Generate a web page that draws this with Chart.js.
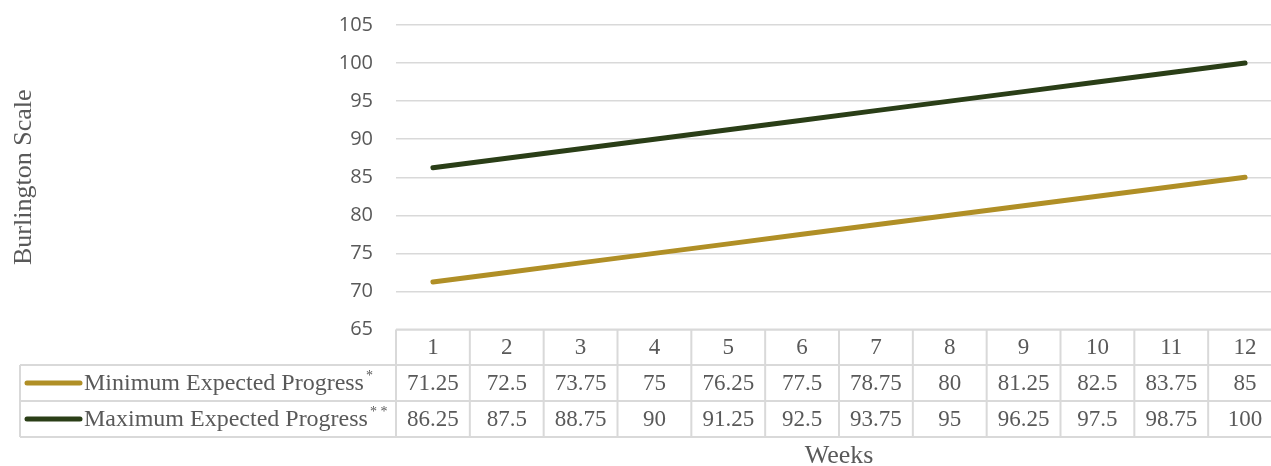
<!DOCTYPE html>
<html>
<head>
<meta charset="utf-8">
<script src="https://cdn.jsdelivr.net/npm/chart.js@4/dist/chart.umd.min.js"></script>
<style>
  html, body { margin: 0; padding: 0; overflow: hidden; background: #fff; width: 1271px; height: 466px; }
  canvas { display: block; }
</style>
</head>
<body>
<canvas id="progressChart" width="1290" height="466"></canvas>
<script>
// Weekly expected progress on the Burlington scale
const weeks = ['1', '2', '3', '4', '5', '6', '7', '8', '9', '10', '11', '12'];
const minProgress = [71.25, 72.5, 73.75, 75, 76.25, 77.5, 78.75, 80, 81.25, 82.5, 83.75, 85];
const maxProgress = [86.25, 87.5, 88.75, 90, 91.25, 92.5, 93.75, 95, 96.25, 97.5, 98.75, 100];
const seriesNames = ['Minimum Expected Progress', 'Maximum Expected Progress'];
const seriesMarks = ['*', '* *'];
const seriesColors = ['#B08F26', '#2A3E17'];
const yMin = 65, yMax = 105, yStep = 5;

const textGray = '#595959';
const ruleGray = '#d9d9d9';
const serif = "'Liberation Serif', 'Times New Roman', serif";

// Data table under the plot: week header row plus one row per series
const dataTable = {
  id: 'dataTable',
  afterDraw(chart) {
    const { ctx, chartArea, scales: { x } } = chart;
    const step = x.getPixelForValue(1) - x.getPixelForValue(0);
    const left = chartArea.left;
    const right = x.getPixelForValue(weeks.length - 1) + step / 2;
    const legendLeft = 20;
    const rows = [chartArea.bottom, 365, 401, 437];
    const series = [minProgress, maxProgress];

    ctx.save();
    ctx.strokeStyle = ruleGray;
    ctx.lineWidth = 2;
    ctx.beginPath();
    // horizontal rules
    ctx.moveTo(left, rows[0]); ctx.lineTo(right, rows[0]);
    for (let r = 1; r < rows.length; r++) {
      ctx.moveTo(legendLeft, rows[r]); ctx.lineTo(right, rows[r]);
    }
    // vertical rules
    ctx.moveTo(legendLeft, rows[1]); ctx.lineTo(legendLeft, rows[3]);
    for (let i = 0; i <= weeks.length; i++) {
      const xb = left + i * step;
      ctx.moveTo(xb, rows[0]); ctx.lineTo(xb, rows[3]);
    }
    ctx.stroke();

    ctx.fillStyle = textGray;
    ctx.textAlign = 'center';
    ctx.textBaseline = 'middle';
    ctx.font = '23px ' + serif;
    weeks.forEach((w, i) => {
      ctx.fillText(w, x.getPixelForValue(i), (rows[0] + rows[1]) / 2 + 1);
    });
    series.forEach((vals, s) => {
      const cy = (rows[s + 1] + rows[s + 2]) / 2 + 1;
      vals.forEach((v, i) => {
        ctx.fillText(String(v), x.getPixelForValue(i), cy);
      });
    });

    // legend keys and series names
    series.forEach((vals, s) => {
      const cy = (rows[s + 1] + rows[s + 2]) / 2;
      ctx.strokeStyle = seriesColors[s];
      ctx.lineWidth = 5;
      ctx.lineCap = 'round';
      ctx.beginPath();
      ctx.moveTo(27, cy); ctx.lineTo(80, cy);
      ctx.stroke();

      ctx.textAlign = 'left';
      ctx.fillStyle = textGray;
      ctx.font = '24px ' + serif;
      ctx.fillText(seriesNames[s], 84, cy + 1);
      const w = ctx.measureText(seriesNames[s]).width;
      ctx.font = '14px ' + serif;
      ctx.fillText(seriesMarks[s], 84 + w + 2, cy - 7);
    });

    // x axis title
    ctx.textAlign = 'center';
    ctx.font = '26px ' + serif;
    ctx.fillText('Weeks', (left + right) / 2, 456);
    ctx.restore();
  }
};

new Chart(document.getElementById('progressChart'), {
  type: 'line',
  data: {
    labels: weeks,
    datasets: [
      { label: seriesNames[0], data: minProgress, borderColor: seriesColors[0] },
      { label: seriesNames[1], data: maxProgress, borderColor: seriesColors[1] }
    ]
  },
  options: {
    responsive: false,
    animation: false,
    layout: { padding: { left: 0, right: 8, top: 25, bottom: 136.5 } },
    elements: {
      line: { borderWidth: 5, tension: 0, borderCapStyle: 'round', borderJoinStyle: 'round' },
      point: { radius: 0, hoverRadius: 0 }
    },
    plugins: { legend: { display: false }, tooltip: { enabled: false } },
    scales: {
      x: { type: 'category', offset: true, display: false },
      y: {
        min: yMin, max: yMax,
        afterFit(scale) { scale.width = 396; scale.paddingTop = 0; scale.paddingBottom = 0; },
        ticks: { stepSize: yStep, padding: 23, color: textGray, font: { family: "'Open Sans', sans-serif", size: 20 } },
        grid: { color: ruleGray, lineWidth: 1.5, drawTicks: false },
        border: { display: false },
        title: { display: true, text: 'Burlington Scale', color: textGray, font: { family: serif, size: 26 }, padding: { top: 9, bottom: 0 } }
      }
    }
  },
  plugins: [dataTable]
});
</script>
</body>
</html>
